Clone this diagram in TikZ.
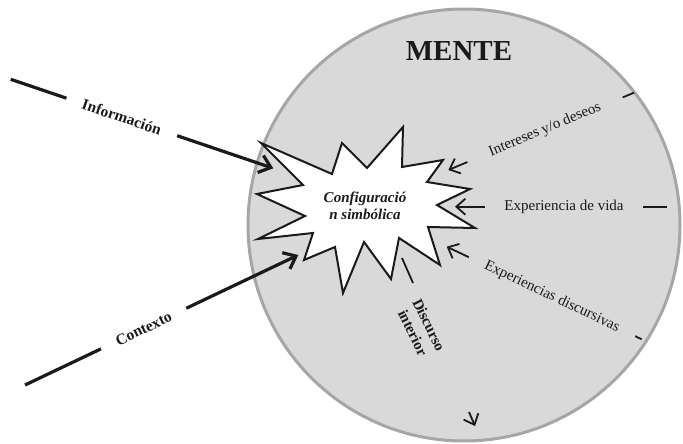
\documentclass[tikz,border=0pt]{standalone}
\usepackage{fontspec}
\setmainfont{Liberation Serif}
\usetikzlibrary{arrows.meta}
\definecolor{mentegray}{HTML}{D9D9D9}
\definecolor{rimgray}{HTML}{A6A6A6}
\definecolor{inkblack}{HTML}{1A1A1A}
\begin{document}
\begin{tikzpicture}[x=1pt,y=-1pt,
        thickarrow/.style={line width=3.2pt, draw=inkblack, -{Straight Barb[length=11pt,width=18pt]}},
        thinarrow/.style={line width=1.8pt, draw=inkblack, -{Straight Barb[length=9pt,width=16pt]}},
        outlbl/.style={font=\bfseries\fontsize{15.5}{17}\selectfont, text=inkblack, fill=white, sloped, inner xsep=17pt, inner ysep=5pt},
        inlbl/.style={font=\fontsize{15}{17}\selectfont, text=inkblack, fill=mentegray, sloped, inner xsep=20pt, inner ysep=5pt},
        burst/.style={draw=inkblack, fill=white, line width=2pt, line join=miter}]
        \useasboundingbox (0,0) rectangle (683,444);
        \draw[rimgray, line width=3pt, fill=mentegray] (464,225) circle[radius=216pt];
        \node[font=\bfseries\fontsize{29}{32}\selectfont, text=inkblack] (mente) at (459,51) {MENTE};
        \draw[burst] (261,143) -- (332,174) -- (342,143) -- (367,168) -- (403,127) -- (402,167)
            -- (443,160) -- (427,182) -- (470,189) -- (437,205) -- (475,228) -- (428,227)
            -- (440,265) -- (399,238) -- (391,279) -- (364,242) -- (343,293) -- (335,247)
            -- (304,260) -- (313,233) -- (258,239) -- (305,216) -- (257,194) -- (303,185) -- cycle;
        \node[font=\bfseries\itshape\fontsize{15}{17}\selectfont, text=inkblack, align=center] (config) at (365,206) {Configuració\\n simbólica};
        \coordinate (infoA) at (10.7,79.3);
        \coordinate (infoB) at (273.3,168.3);
        \coordinate (contA) at (25,385);
        \coordinate (contB) at (298.3,255);
        \draw[thickarrow] (infoA) -- node[outlbl, pos=0.423] (info) {Información} (infoB);
        \draw[thickarrow] (contA) -- node[outlbl, pos=0.434] (cont) {Contexto} (contB);
        \coordinate (intA) at (634,92.7);
        \coordinate (intB) at (448.3,170);
        \coordinate (vidaA) at (666.7,206.7);
        \coordinate (vidaB) at (455,206.7);
        \coordinate (discuA) at (641.7,339.3);
        \coordinate (discuB) at (446.7,246.7);
        \draw[thinarrow] (intA) -- node[inlbl, pos=0.479, inner xsep=24pt] (inter) {Intereses y/o deseos} (intB);
        \draw[thinarrow] (vidaA) -- node[inlbl, pos=0.485, inner xsep=19pt] (vida) {Experiencia de vida} (vidaB);
        \draw[thinarrow] (discuA) -- node[inlbl, pos=0.46, inner xsep=18pt] (discu) {Experiencias discursivas} (discuB);
        \coordinate (intoA) at (402,258);
        \coordinate (intoB) at (413,283);
        \coordinate (intoC) at (469,412);
        \coordinate (intoD) at (475,426);
        \draw[line width=1.8pt, draw=inkblack] (intoA) -- (intoB);
        \draw[thinarrow] (intoC) -- (intoD);
        \node[font=\bfseries\fontsize{15}{18}\selectfont, text=inkblack, align=center, rotate=-64] (interior) at (421,329) {Discurso\\interior};
\end{tikzpicture}
\end{document}
